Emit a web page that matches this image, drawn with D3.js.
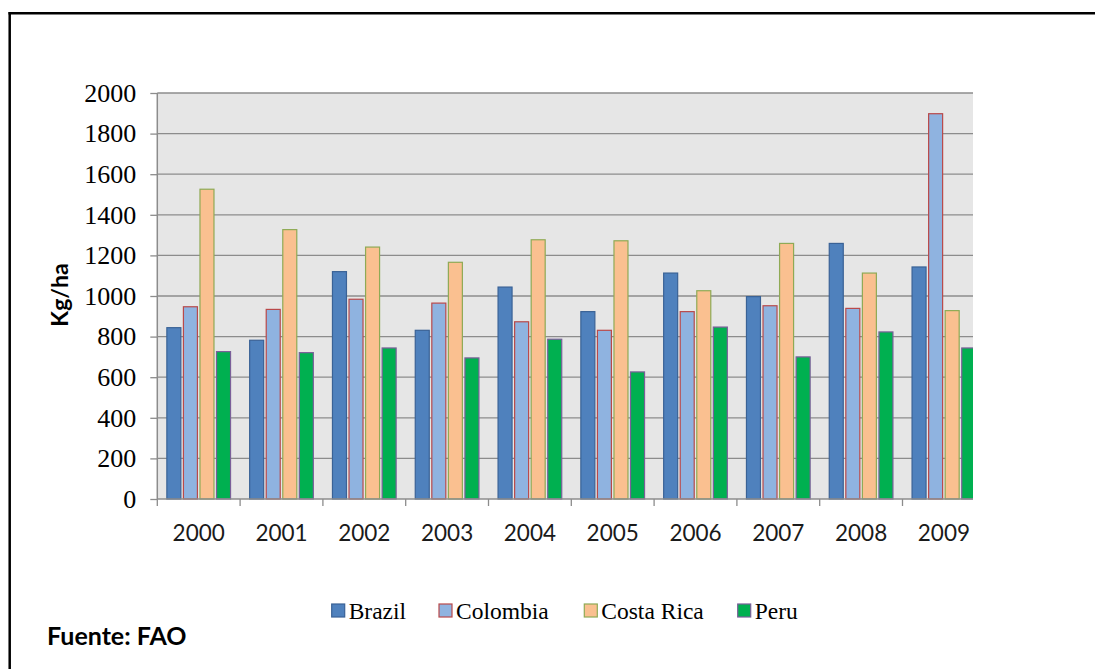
<!DOCTYPE html>
<html>
<head>
<meta charset="utf-8">
<script src="https://cdn.jsdelivr.net/npm/d3@7/dist/d3.min.js"></script>
<style>
  html, body { margin: 0; padding: 0; background: #ffffff; }
  svg { display: block; }
</style>
</head>
<body>
<svg id="chart" width="1095" height="669"></svg>
<script>
// Coffee yield by country, 2000-2009 (Kg/ha)
const years = ["2000", "2001", "2002", "2003", "2004", "2005", "2006", "2007", "2008", "2009"];
const seriesNames = ["Brazil", "Colombia", "Costa Rica", "Peru"];
const brazil    = [844, 782, 1120, 831, 1044, 923, 1113, 997, 1259, 1143];
const colombia  = [947, 934, 984, 965, 873, 831, 923, 952, 939, 1898];
const costaRica = [1526, 1327, 1241, 1166, 1277, 1272, 1026, 1259, 1113, 928];
const peru      = [726, 721, 744, 695, 787, 626, 847, 700, 823, 744];
const yTicks = [0, 200, 400, 600, 800, 1000, 1200, 1400, 1600, 1800, 2000];
const yLabel = "Kg/ha";
const sourceNote = "Fuente: FAO";

const seriesValues = [brazil, colombia, costaRica, peru];
const fills   = ["#4F81BD", "#8FB3E0", "#FAC090", "#00B050"];
const strokes = ["#3A6296", "#B9494A", "#8FAA55", "#7A5F99"];

const svg = d3.select("#chart");

// Frame lines (left and top)
svg.append("line").attr("x1", 9.7).attr("x2", 9.7).attr("y1", 12).attr("y2", 669)
  .attr("stroke", "#000").attr("stroke-width", 2.5);
svg.append("line").attr("x1", 8.5).attr("x2", 1095).attr("y1", 13.2).attr("y2", 13.2)
  .attr("stroke", "#000").attr("stroke-width", 2.5);

// Plot geometry
const plotLeft = 157.3, plotTop = 93, plotBottom = 499, plotRight = 973;
const catStep = 82.8;

const x = d3.scaleBand().domain(years)
  .range([plotLeft, plotLeft + catStep * years.length]).padding(0);
const xInner = d3.scaleBand().domain(seriesNames)
  .range([0, x.bandwidth()]).paddingOuter(0.5).paddingInner(0);
const y = d3.scaleLinear().domain([0, 2000]).range([plotBottom, plotTop]);

const barW = 14;
const barInset = (xInner.bandwidth() - barW) / 2;

svg.append("defs").append("clipPath").attr("id", "plotClip")
  .append("rect").attr("x", plotLeft).attr("y", plotTop - 5)
  .attr("width", plotRight - plotLeft).attr("height", plotBottom - plotTop + 20);

// Plot background
svg.append("rect").attr("x", plotLeft).attr("y", plotTop)
  .attr("width", plotRight - plotLeft).attr("height", plotBottom - plotTop)
  .attr("fill", "#E6E6E6");

// Horizontal gridlines
svg.append("g").selectAll("line").data(yTicks.filter(d => d > 0)).join("line")
  .attr("x1", plotLeft).attr("x2", plotRight)
  .attr("y1", d => y(d)).attr("y2", d => y(d))
  .attr("stroke", "#8C8C8C").attr("stroke-width", 1.3);

// Bars
const plot = svg.append("g").attr("clip-path", "url(#plotClip)");
seriesNames.forEach((name, si) => {
  plot.append("g").selectAll("rect").data(seriesValues[si]).join("rect")
    .attr("x", (d, i) => x(years[i]) + xInner(name) + barInset)
    .attr("y", d => y(d))
    .attr("width", barW)
    .attr("height", d => y(0) - y(d))
    .attr("fill", fills[si])
    .attr("stroke", strokes[si])
    .attr("stroke-width", 1.2);
});

// Y axis
const yAxis = d3.axisLeft(y).tickValues(yTicks).tickSize(7).tickPadding(14)
  .tickFormat(d3.format("d"));
const yg = svg.append("g").attr("transform", `translate(${plotLeft},0)`).call(yAxis);
yg.select(".domain").remove();
yg.selectAll(".tick line").attr("stroke", "#8C8C8C").attr("stroke-width", 1.3);
yg.selectAll(".tick text").attr("font-family", "'Liberation Serif', 'Times New Roman', serif")
  .attr("font-size", 26).attr("fill", "#000");
svg.append("line").attr("x1", plotLeft).attr("x2", plotLeft)
  .attr("y1", plotTop).attr("y2", plotBottom)
  .attr("stroke", "#8C8C8C").attr("stroke-width", 1.5);

// X axis
const xAxis = d3.axisBottom(x).tickSize(0).tickPadding(26);
const xg = svg.append("g").attr("transform", `translate(0,${plotBottom})`).call(xAxis);
xg.select(".domain").remove();
xg.selectAll(".tick text").attr("font-family", "Lato, 'Open Sans', sans-serif")
  .attr("font-size", 22.5).attr("fill", "#1a1a1a");
svg.append("line").attr("x1", plotLeft).attr("x2", plotRight)
  .attr("y1", plotBottom).attr("y2", plotBottom)
  .attr("stroke", "#8C8C8C").attr("stroke-width", 1.5);
svg.append("g").selectAll("line").data(years).join("line")
  .attr("x1", d => x(d)).attr("x2", d => x(d))
  .attr("y1", plotBottom).attr("y2", plotBottom + 7)
  .attr("stroke", "#8C8C8C").attr("stroke-width", 1.3);

// Y axis title
svg.append("text")
  .attr("transform", "translate(68,295) rotate(-90)")
  .attr("text-anchor", "middle")
  .attr("font-family", "Lato, 'Open Sans', sans-serif")
  .attr("font-weight", "bold").attr("font-size", 23).attr("fill", "#000")
  .text(yLabel);

// Legend
const legendX = [331.7, 439, 584.3, 737.7];
const legend = svg.append("g");
seriesNames.forEach((name, si) => {
  legend.append("rect").attr("x", legendX[si]).attr("y", 604)
    .attr("width", 13).attr("height", 13)
    .attr("fill", fills[si]).attr("stroke", strokes[si]).attr("stroke-width", 1.2);
  legend.append("text").attr("x", legendX[si] + 17).attr("y", 619)
    .attr("font-family", "'Liberation Serif', 'Times New Roman', serif")
    .attr("font-size", 23.5).attr("fill", "#000")
    .text(name);
});

// Source note
svg.append("text").attr("x", 47).attr("y", 645)
  .attr("font-family", "Lato, 'Open Sans', sans-serif")
  .attr("font-weight", "bold").attr("font-size", 25).attr("fill", "#000")
  .text(sourceNote);
</script>
</body>
</html>
